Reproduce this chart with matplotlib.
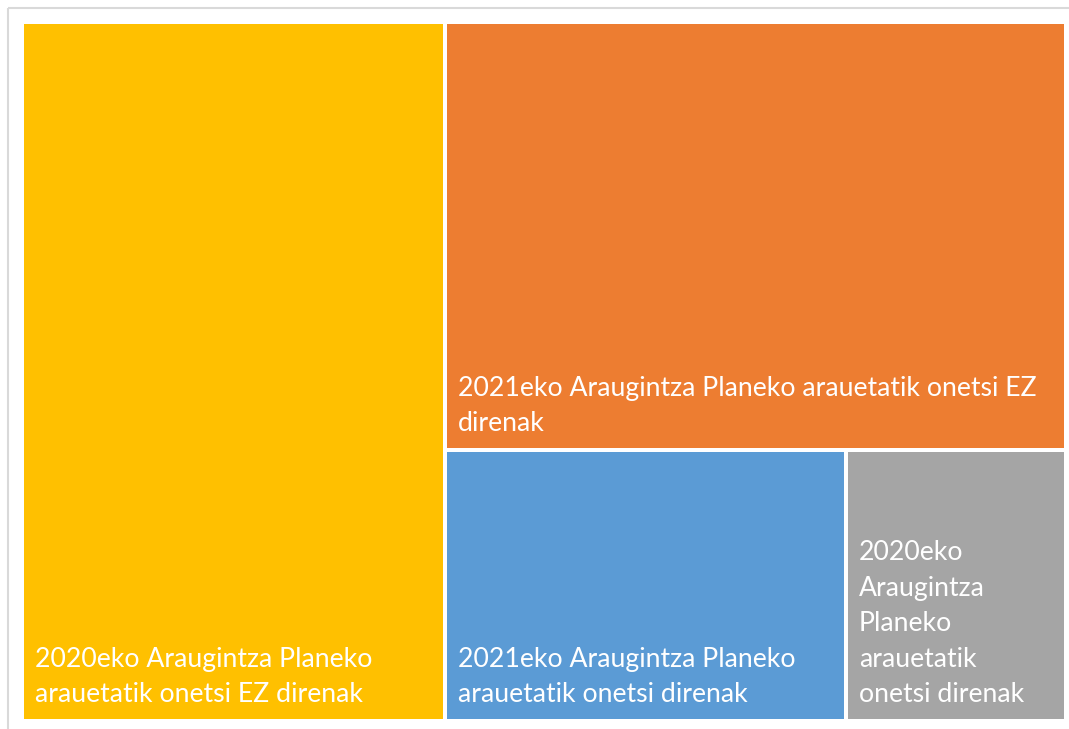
import matplotlib
matplotlib.use("Agg")
import matplotlib.pyplot as plt
from matplotlib.patches import Rectangle

# treemap data
labels = [
    "2020eko Araugintza Planeko\narauetatik onetsi EZ direnak",
    "2021eko Araugintza Planeko arauetatik onetsi EZ\ndirenak",
    "2021eko Araugintza Planeko\narauetatik onetsi direnak",
    "2020eko\nAraugintza\nPlaneko\narauetatik\nonetsi direnak",
]
values = [54.5, 49, 20, 11]
colors = ["#FFC000", "#ED7D31", "#5B9BD5", "#A5A5A5"]


def worst(row, short):
    s = sum(row)
    return max(max(short**2 * r / s**2, s**2 / (short**2 * r)) for r in row)


def squarify(vals, x, y, w, h):
    tot = sum(vals)
    areas = [v * w * h / tot for v in vals]
    rects = []
    while areas:
        short = min(w, h)
        row = [areas[0]]
        i = 1
        while i < len(areas) and worst(row + [areas[i]], short) <= worst(row, short):
            row.append(areas[i])
            i += 1
        s = sum(row)
        if w >= h:
            cw = s / h
            yy = y
            for a in row:
                rects.append((x, yy, cw, a / cw))
                yy += a / cw
            x += cw
            w -= cw
        else:
            rh = s / w
            xx = x
            for a in row:
                rects.append((xx, y, a / rh, rh))
                xx += a / rh
            y += rh
            h -= rh
        areas = areas[i:]
    return rects


W, H = 1069, 729
fig = plt.figure(figsize=(W / 100, H / 100), dpi=100)
ax = fig.add_axes([0, 0, 1, 1])
ax.set_xlim(0, W)
ax.set_ylim(H, 0)
ax.axis("off")

# light frame around the chart area
ax.add_patch(Rectangle((8, 8), W, H, fill=False, edgecolor="#D9D9D9", lw=1.5))

gap = 2
for (x, y, w, h), lab, c in zip(squarify(values, 22, 22, 1044, 699), labels, colors):
    ax.add_patch(Rectangle((x + gap, y + gap), w - 2 * gap, h - 2 * gap,
                           facecolor=c, edgecolor="none"))
    ax.text(x + gap + 11, y + h - gap - 12, lab, color="white", fontsize=19.2,
            family="Lato", ha="left", va="bottom", linespacing=1.52)

fig.savefig("out.png", dpi=100)
